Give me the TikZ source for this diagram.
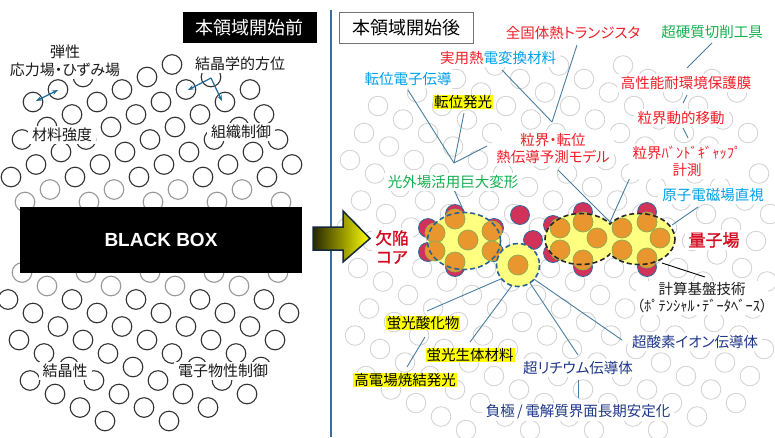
\documentclass[tikz,border=0pt]{standalone}
\usepackage{fontspec}
\usetikzlibrary{arrows.meta}
\newfontfamily\jp{Noto Sans CJK JP}[RawFeature=+palt]
\newfontfamily\jpbold{Noto Sans CJK JP}[RawFeature=+palt,FakeBold=1.2]
\newfontfamily\arialfam{Liberation Sans}

\definecolor{lnblue}{RGB}{74,126,160}
\definecolor{divblue}{RGB}{60,110,155}
\definecolor{arrblue}{RGB}{31,106,154}
\definecolor{tred}{RGB}{240,30,40}
\definecolor{dred}{RGB}{210,10,30}
\definecolor{tgreen}{RGB}{20,176,80}
\definecolor{tcyan}{RGB}{0,160,232}
\definecolor{tnavy}{RGB}{30,55,135}
\definecolor{hly}{RGB}{255,255,0}
\definecolor{cred}{RGB}{208,50,90}
\definecolor{credline}{RGB}{46,106,158}
\definecolor{corange}{RGB}{232,150,45}
\definecolor{corangeline}{RGB}{150,170,80}
\definecolor{cyellow}{RGB}{255,255,128}
\definecolor{bggray}{RGB}{208,208,208}
\definecolor{arrowedge}{RGB}{20,40,60}
\definecolor{dashblue}{RGB}{40,100,150}

\tikzset{
  lbl/.style={fill=white, inner xsep=4pt, inner ysep=2pt, align=center,
    font=\jp\fontsize{14.5}{17}\selectfont},
  llbl/.style={lbl, text=black!90, font=\jp\fontsize{15}{18}\selectfont},
  hl/.style={fill=hly, inner xsep=1pt, inner ysep=0.5pt, text=black,
    font=\jp\fontsize{14.5}{17}\selectfont},
  conn/.style={draw=lnblue, line width=0.9pt},
  bgcircle/.style={draw=bggray, line width=0.8pt},
  lcircle/.style={draw=black!80, line width=1.1pt},
  lcirclegray/.style={draw=black!40, line width=1.1pt},
  reddot/.style={fill=cred, draw=credline, line width=0.8pt},
  orangedot/.style={fill=corange, draw=corangeline, line width=0.8pt},
  dashB/.style={draw=dashblue, line width=1.6pt, dash pattern=on 5pt off 3pt},
  dashK/.style={draw=black!85, line width=1.6pt, dash pattern=on 5pt off 3pt},
  crystarrow/.style={draw=arrblue, line width=1.2pt}
}

\begin{document}
\begin{tikzpicture}[x=1pt,y=-1pt]
\useasboundingbox (0,0) rectangle (775,437);
\fill[white] (0,0) rectangle (775,437);

% ---------- left panel: lattice of open circles ----------
\foreach \r in {-4,...,8}{
  \foreach \i in {0,...,5}{
    \pgfmathsetmacro\cx{mod(33-25*\r+6400,64)+64*\i}
    \pgfmathsetmacro\cy{102+12.5*\r}
    \pgfmathtruncatemacro\inside{((abs(\cx-150)/145)^2+(abs(\cy-165)/110)^2<=1) && (\cy<=205)}
    \ifnum\inside=1
      \pgfmathtruncatemacro\light{\cy>=185}
      \ifnum\light=1
        \draw[lcirclegray] (\cx,\cy) circle[radius=9.8];
      \else
        \draw[lcircle] (\cx,\cy) circle[radius=9.8];
      \fi
    \fi
  }
}
\foreach \r in {-4,...,9}{
  \foreach \i in {0,...,5}{
    \pgfmathsetmacro\cx{mod(33+25*\r+6400,64)+64*\i}
    \pgfmathsetmacro\cy{313+13.5*\r}
    \pgfmathtruncatemacro\inside{((abs(\cx-155)/150)^2+(abs(\cy-320)/110)^2<=1) && (\cy>=262)}
    \ifnum\inside=1
      \pgfmathtruncatemacro\light{\cy<=292}
      \ifnum\light=1
        \draw[lcirclegray] (\cx,\cy) circle[radius=9.8];
      \else
        \draw[lcircle] (\cx,\cy) circle[radius=9.8];
      \fi
    \fi
  }
}

% crystal arrows
\coordinate (elA) at (36,101);
\coordinate (elB) at (58,90);
\draw[crystarrow, {Stealth[length=6pt]}-{Stealth[length=6pt]}] (elA) -- (elB);
\coordinate (orJ) at (211,78);
\coordinate (orA) at (188,90);
\coordinate (orB) at (222,101);
\draw[crystarrow, -{Stealth[length=6pt]}] (orJ) -- (orA);
\draw[crystarrow, -{Stealth[length=6pt]}] (orJ) -- (orB);

% black box
\node[fill=black, minimum width=282pt, minimum height=66pt, inner sep=0pt,
  text=white, font=\arialfam\bfseries\fontsize{19}{22}\selectfont] (bb) at (161,240) {BLACK BOX};

% left labels
\node[llbl] (elastic) at (65,61) {弾性\\応力場・ひずみ場};
\node[llbl] (orient) at (240,64) {結晶学的方位};
\node[llbl] (strength) at (62,135) {材料強度};
\node[llbl] (micro) at (241,132) {組織制御};
\node[llbl] (cryst) at (65,371) {結晶性};
\node[llbl] (elec) at (223,371) {電子物性制御};

% ---------- right panel: faint lattice ----------
\foreach \r in {0,...,28}{
  \foreach \i in {0,...,7}{
    \pgfmathsetmacro\cx{330+mod(25*\r+12,64)+64*\i}
    \pgfmathsetmacro\cy{52+13.5*\r}
    \pgfmathtruncatemacro\inside{((abs(\cx-560)/215)^4+(abs(\cy-250)/190)^4<=1) && (\cx>=342)}
    \ifnum\inside=1
      \draw[bgcircle] (\cx,\cy) circle[radius=9.8];
    \fi
  }
}

% titles
\node[fill=black, text=white, minimum width=134pt, minimum height=31pt, inner sep=0pt,
  font=\jp\fontsize{18}{20}\selectfont] (before) at (249.5,27.5) {本領域開始前};
\node[draw=black!55, fill=white, line width=0.9pt, minimum width=134pt, minimum height=31pt,
  inner sep=0pt, font=\jp\fontsize{18}{20}\selectfont] (after) at (406,27.5) {本領域開始後};

% divider and transition arrow
\coordinate (divtop) at (331,10);
\coordinate (divbot) at (331,437);
\draw[divblue, line width=1.6pt] (divtop) -- (divbot);
\draw[draw=arrowedge, line width=1.5pt, line join=miter, left color=black!85!yellow, right color=yellow]
  (313,227) -- (343,227) -- (343,211) -- (370,238.5) -- (343,262) -- (343,250) -- (313,250) -- cycle;

% ---------- connectors ----------
\coordinate (cutS) at (712,43);   \coordinate (coatN) at (687,68);
\coordinate (coatS) at (687,95);  \coordinate (moveN) at (683,103);
\coordinate (moveS) at (683,128); \coordinate (gapN) at (688,138);
\coordinate (trS) at (577,45);    \coordinate (thS) at (502,70);
\coordinate (gbJ) at (552,122);
\coordinate (modelS) at (558,170); \coordinate (gapW) at (637,162);
\coordinate (neck) at (610,222);
\coordinate (dislecS) at (408,90); \coordinate (dislumS) at (464,113);
\coordinate (optJ) at (454,163);   \coordinate (optR) at (487,146);
\coordinate (optS) at (454,190);   \coordinate (redTop) at (462,207);
\coordinate (viewS) at (698,207);  \coordinate (qR) at (672,225);
\coordinate (compN) at (705,277);  \coordinate (qB) at (662,263);
\coordinate (m1) at (510,275); \coordinate (m2) at (516,280);
\coordinate (m3) at (526,277); \coordinate (m4) at (528,275);
\coordinate (fluoxE) at (427,311); \coordinate (flubioN) at (470,342);
\coordinate (liN) at (578,355);    \coordinate (oxW) at (622,340);
\coordinate (fluoxS) at (425,337); \coordinate (heN) at (407,367);
\coordinate (liS) at (578,380);    \coordinate (anN) at (578,398);

\draw[conn] (cutS) -- (coatN);
\draw[conn] (coatS) -- (moveN);
\draw[conn] (moveS) -- (gapN);
\draw[conn] (trS) -- (gbJ);
\draw[conn] (thS) -- (gbJ);
\draw[conn] (modelS) -- (neck);
\draw[conn] (gapW) -- (neck);
\draw[conn] (dislecS) -- (optJ);
\draw[conn] (dislumS) -- (optJ);
\draw[conn] (optJ) -- (optR);
\draw[conn] (optS) -- (redTop);
\draw[conn] (viewS) -- (qR);
\draw[black, line width=0.9pt] (compN) -- (qB);
\draw[conn] (m1) -- (fluoxE);
\draw[conn] (m2) -- (flubioN);
\draw[conn] (m3) -- (liN);
\draw[conn] (m4) -- (oxW);
\draw[conn] (fluoxS) -- (heN);
\draw[conn] (liS) -- (anN);

% ---------- defect core cluster ----------
\foreach \x/\y in {455/214,428/228,428/252,455/267,494/228,494/252}
  \path[reddot] (\x,\y) circle[radius=9.5];
\fill[cyellow] (464,241) ellipse[x radius=36.5, y radius=28.5];
\foreach \x/\y in {455/219,435/233,468/240,492/231,435/251,492/251,455/262}
  \path[orangedot] (\x,\y) circle[radius=10];
\draw[dashB] (464,241) ellipse[x radius=36.5, y radius=28.5];

% ---------- single site ----------
\path[reddot] (520,215) circle[radius=9.5];
\path[reddot] (533,240) circle[radius=9.5];
\fill[cyellow] (518,265) circle[radius=21.5];
\path[orangedot] (518,265) circle[radius=10];
\draw[dashB] (518,265) circle[radius=21.5];

% ---------- quantum field pair ----------
\foreach \x/\y in {553/225,553/253,583/212,583/267,647/212,647/267}
  \path[reddot] (\x,\y) circle[radius=9.5];
\fill[cyellow] (581,239) ellipse[x radius=36, y radius=25.5];
\fill[cyellow] (639,239) ellipse[x radius=36, y radius=25.5];
\foreach \x/\y in {560/228,560/250,583/222,597/238,583/260,622/228,622/250,647/222,660/238,647/258}
  \path[orangedot] (\x,\y) circle[radius=10];
\begin{scope}
  \clip (540,205) rectangle (610,275);
  \draw[dashK] (581,239) ellipse[x radius=36, y radius=25.5];
\end{scope}
\begin{scope}
  \clip (610,205) rectangle (680,275);
  \draw[dashK] (639,239) ellipse[x radius=36, y radius=25.5];
\end{scope}

% ---------- right labels ----------
\node[lbl, text=tred] (tr) at (573,33) {全固体熱トランジスタ};
\node[lbl, text=tgreen] (cut) at (712,32) {超硬質切削工具};
\node[lbl] (thermo) at (498,58) {{\color{tred}実用熱}{\color{tcyan}電変換材料}};
\node[lbl, text=tcyan] (dislec) at (408,79) {転位電子伝導};
\node[hl] (dislum) at (463,102) {転位発光};
\node[lbl, text=tred] (coat) at (686,83) {高性能耐環境保護膜};
\node[lbl, text=tred] (gbmove) at (681,118) {粒界動的移動};
\node[lbl, text=tred] (gbmodel) at (553,148.5) {粒界・転位\\熱伝導予測モデル};
\node[lbl, text=tred] (gbgap) at (687,161.5) {粒界ﾊﾞﾝﾄﾞｷﾞｬｯﾌﾟ\\計測};
\node[lbl, text=tgreen] (optdef) at (453,182) {光外場活用巨大変形};
\node[lbl, text=tcyan] (atomview) at (713,195) {原子電磁場直視};
\node[lbl, text=dred, font=\jpbold\fontsize{16.5}{19}\selectfont] (core) at (392,247) {欠陥\\コア};
\node[lbl, text=dred, font=\jpbold\fontsize{17}{19}\selectfont] (qfield) at (714,240) {量子場};
\node[lbl, text=black!90, inner xsep=1pt] (compbase) at (702,298) {計算基盤技術\\（ﾎﾟﾃﾝｼｬﾙ･ﾃﾞｰﾀﾍﾞｰｽ）};
\node[lbl, text=tnavy] (oxion) at (695,342) {超酸素イオン伝導体};
\node[hl] (fluox) at (423,323) {蛍光酸化物};
\node[hl] (flubio) at (470,355) {蛍光生体材料};
\node[lbl, text=tnavy] (liion) at (578,368) {超リチウム伝導体};
\node[hl] (hefield) at (405,380) {高電場焼結発光};
\node[lbl, text=tnavy] (anode) at (578,412) {負極\,/\,電解質界面長期安定化};
\end{tikzpicture}
\end{document}
